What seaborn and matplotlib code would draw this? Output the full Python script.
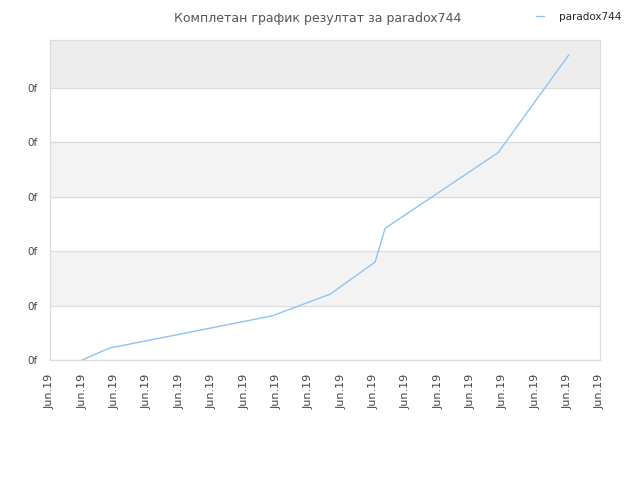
import pandas as pd
import numpy as np
import matplotlib
matplotlib.use('Agg')
import matplotlib.pyplot as plt
import seaborn as sns

# ---- data ----
x_labels = ['Jun.19'] * 18
y_labels = ['0f'] * 6
x_vals = [0.99, 1.85, 6.86, 8.66, 10.05, 10.36, 13.85, 16.04]
y_vals = [0.00, 0.22, 0.81, 1.21, 1.80, 2.42, 3.81, 5.61]
series_name = 'paradox744'
title = 'Комплетан график резултат за paradox744'

df = pd.DataFrame({'x': x_vals, 'y': y_vals, 'serie': series_name})

sns.set_theme(style='white')
plt.rcParams['font.family'] = ['DejaVu Sans']

fig = plt.figure(figsize=(6.4, 4.8), dpi=100)
ax = fig.add_axes([0.078, 0.25, 0.8595, 0.6667])

# alternating bands
y_top = 5.88
for i in range(len(y_labels)):
    if i % 2 == 1:
        ax.axhspan(i, min(i + 1, y_top), color='#f3f3f3', zorder=0, lw=0)
ax.axhspan(5, y_top, color='#ededed', zorder=0, lw=0)
for i in range(len(y_labels)):
    ax.axhline(i, color='#dcdcdc', lw=0.9, zorder=1)

sns.lineplot(data=df, x='x', y='y', hue='serie', palette=['#8ec3f4'],
             linewidth=1, ax=ax, legend=True, zorder=3)

ax.set_xlim(0, len(x_labels) - 1)
ax.set_ylim(0, y_top)
ax.set_xticks(range(len(x_labels)))
ax.set_xticklabels(x_labels, rotation=90, fontsize=8, color='#444')
ax.set_yticks(range(len(y_labels)))
ax.set_yticklabels(y_labels, fontsize=7.5, color='#444')
ax.tick_params(axis='x', length=0, pad=10)
ax.tick_params(axis='y', length=0, pad=9)
ax.set_xlabel('')
ax.set_ylabel('')
for s in ax.spines.values():
    s.set_color('#dcdcdc')
    s.set_linewidth(0.9)

fig.text(0.497, 0.975, title, ha='center', va='top', fontsize=9, color='#555')

handles, labels = ax.get_legend_handles_labels()
ax.legend(handles, labels, loc='upper right', bbox_to_anchor=(0.985, 0.995),
          bbox_transform=fig.transFigure, frameon=False, fontsize=7.5,
          handlelength=0.8, handletextpad=1.4)

fig.savefig('out.png', dpi=100)
